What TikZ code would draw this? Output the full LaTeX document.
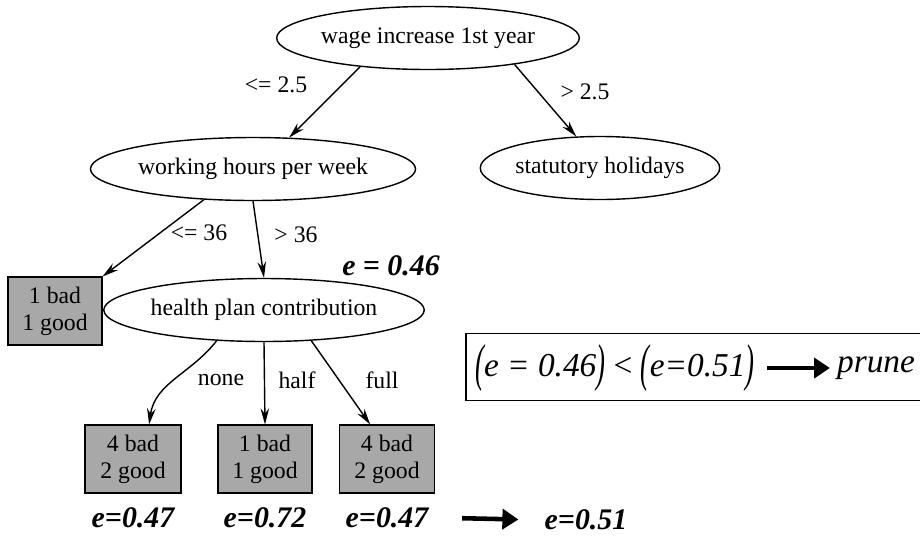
\documentclass[tikz,border=0pt]{standalone}
\usepackage{fontspec}
\setmainfont{Liberation Serif}[ItalicFont={Liberation Serif Italic},
  BoldItalicFont={Liberation Serif Bold Italic}]
\usetikzlibrary{arrows.meta,positioning,shapes.geometric}

\begin{document}
\begin{tikzpicture}[
  x=0.02cm, y=-0.02cm,
  test/.style={ellipse, draw, line width=0.8pt, inner sep=0pt,
    minimum height=1.26cm, font=\fontsize{13.5}{15.5}\selectfont},
  leaf/.style={rectangle, draw, fill=black!34, line width=0.6pt, align=center,
    minimum width=1.92cm, minimum height=1.36cm, font=\fontsize{13.5}{15.5}\selectfont},
  branch/.style={inner sep=1pt, font=\fontsize{13.5}{15.5}\selectfont},
  err/.style={inner sep=2pt, font=\fontsize{17}{19}\selectfont\bfseries\itshape},
  rule/.style={inner sep=1pt, font=\fontsize{19}{21}\selectfont\itshape},
  line/.style={-{Stealth[length=3.2mm, width=1.7mm]}, line width=0.8pt},
  bigline/.style={-{Triangle[length=3.2mm, width=4mm]}, line width=2.6pt}
]
\useasboundingbox (0,0) rectangle (920,549);

% tests
\node[test, minimum width=5.14cm] (wage) at (428,38) {wage increase 1st year};
\node[test, minimum width=5.4cm] (hours) at (253,169) {working hours per week};
\node[test, minimum width=4.2cm] (holidays) at (600,168) {statutory holidays};
\node[test, minimum width=5.36cm] (health) at (264,310) {health plan contribution};

% leaves
\node[leaf, minimum width=1.88cm] (leaf-a) at (55,311) {1 bad\\1 good};
\node[leaf] (leaf-none) at (133,459) {4 bad\\2 good};
\node[leaf, minimum width=1.88cm] (leaf-half) at (265,459) {1 bad\\1 good};
\node[leaf, minimum width=1.9cm] (leaf-full) at (387,459) {4 bad\\2 good};

% branch labels
\node[branch] (lbl-le25) at (276,85) {<= 2.5};
\node[branch] (lbl-gt25) at (585,92) {> 2.5};
\node[branch] (lbl-le36) at (199,233) {<= 36};
\node[branch] (lbl-gt36) at (296,235) {> 36};
\node[branch] (lbl-none) at (221,380) {none};
\node[branch] (lbl-half) at (297,380) {half};
\node[branch] (lbl-full) at (382,380) {full};

\draw[line] (wage.203) -- (hours.41);
\draw[line] (wage.-17) -- (holidays.127);
\draw[line] (hours.212) -- (leaf-a.north east);
\draw[line] (hours.south) -- (health.north);
\draw[line] (health.213) to[out=-128, in=82] (leaf-none.65);
\draw[line] (health.south) -- (leaf-half.north);
\draw[line] (health.-33) -- (leaf-full.116);

% errors
\node[err] (e-hours) at (391,266) {e = 0.46};
\node[err, below=0.2cm of leaf-none] (e-none) {e=0.47};
\node[err, below=0.2cm of leaf-half] (e-half) {e=0.72};
\node[err, below=0.2cm of leaf-full] (e-full) {e=0.47};
\node[err] (e-sub) at (586,520) {e=0.51};
\draw[bigline, shorten <=0.6cm, shorten >=0.45cm] (e-full.east) -- (e-sub.west);

% pruning rule
\node[draw, line width=1pt, anchor=west, minimum width=9.5cm, minimum height=1.34cm]
  (rulebox) at (465,367) {};
\node[rule, anchor=west] (cmp) at (473,368)
  {\raisebox{-0.12em}{\scalebox{0.8}[1.55]{(}}e = 0.46\raisebox{-0.12em}{\scalebox{0.8}[1.55]{)}} {\upshape<}
   \raisebox{-0.12em}{\scalebox{0.8}[1.55]{(}}e=0.51\raisebox{-0.12em}{\scalebox{0.8}[1.55]{)}}};
\node[rule, anchor=west] (prune) at (835,368) {prune};
\draw[bigline, shorten <=0.2cm, shorten >=0.1cm] (cmp.east) -- (prune.west);
\end{tikzpicture}
\end{document}
